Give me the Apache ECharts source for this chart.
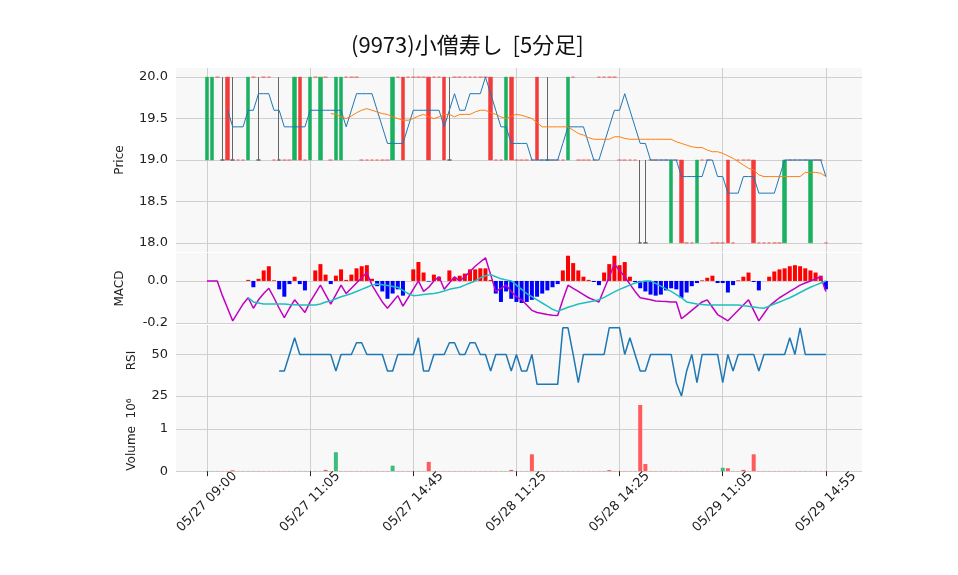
<!DOCTYPE html>
<html><head><meta charset="utf-8">
<script src="https://cdn.jsdelivr.net/npm/echarts@6/dist/echarts.min.js"></script>
<style>html,body{margin:0;padding:0;background:#fff}#c{width:958px;height:575px}</style>
</head><body><div id="c"></div>
<script>
const tickLabels = ['05/27 09:00','05/27 11:05','05/27 14:45','05/28 11:25','05/28 14:25','05/29 11:05','05/29 14:55'];
const opens = [19,19,20,19,20,19,19,19,19,20, 19,20,20,19,19,19,19,19,20,19, 19,20,19,20,19,19,19,20,20,20,
 19,19,19,19,19,19,19,20,20,20, 20,20,20,20,20,20,20,19,20,20, 20,20,20,20,20,20,19,19,19,20,
 19,19,19,19,20,19,19,19,19,19, 19,20,19,19,19,19,20,20,20,20, 19,19,19,19,18,18,19,19,19,19,
 18,19,19,18,18,18,19,19,18,18, 18,19,18,19,19,19,19,18,18,18, 18,18,18,19,19,19,19,18,19,19, 18];
const closes = [20,20,20,19,19,19,19,19,20,20, 19,20,20,19,19,19,19,20,19,19, 20,20,20,20,19,20,20,20,20,20,
 19,19,19,19,19,19,20,20,19,20, 20,20,20,19,20,20,19,19,20,20, 20,20,20,20,20,19,19,19,20,19,
 19,19,19,19,19,19,19,19,19,19, 20,20,19,19,19,19,20,20,20,20, 19,19,19,19,18,18,19,19,19,19,
 19,19,18,18,18,19,19,19,18,18, 18,18,18,19,19,19,18,18,18,18, 18,18,19,19,19,19,19,19,19,19, 18];
const wickBars = [3,5,10,14,47,66,84,85];
const ma5 = [null,null,null,null,19.6,19.4,19.4,19.4,19.6,19.6, 19.8,19.8,19.8,19.6,19.6,19.4,19.4,19.4,19.4,19.4,
 19.6,19.6,19.6,19.6,19.6,19.6,19.6,19.4,19.6,19.8, 19.8,19.8,19.8,19.6,19.4,19.2,19.2,19.2,19.2,19.4,
 19.6,19.6,19.6,19.6,19.6,19.6,19.4,19.6,19.8,19.6, 19.6,19.8,19.8,19.8,20.0,19.8,19.6,19.4,19.4,19.2,
 19.2,19.2,19.2,19.0,19.0,19.0,19.0,19.0,19.0,19.2, 19.4,19.4,19.4,19.4,19.2,19.0,19.0,19.2,19.4,19.6,
 19.6,19.8,19.6,19.4,19.2,19.2,19.0,19.0,19.0,19.0, 19.0,19.0,18.8,18.8,18.8,18.8,18.8,19.0,19.0,18.8,
 18.8,18.6,18.6,18.6,18.8,18.8,18.8,18.6,18.6,18.6, 18.6,18.8,19.0,19.0,19.0,19.0,19.0,19.0,19.0,19.0, 18.8];
const ma25 = [null,null,null,null,null,null,null,null,null,null, null,null,null,null,null,null,null,null,null,null,
 null,null,null,null,19.56,19.55,19.52,19.5,19.53,19.57, 19.6,19.62,19.6,19.58,19.56,19.55,19.52,19.5,19.48,19.48,
 19.5,19.53,19.55,19.52,19.5,19.52,19.55,19.55,19.52,19.55, 19.55,19.55,19.58,19.6,19.6,19.57,19.55,19.52,19.5,19.53,
 19.55,19.54,19.52,19.5,19.45,19.4,19.4,19.4,19.4,19.4, 19.4,19.36,19.32,19.3,19.27,19.25,19.25,19.25,19.25,19.28,
 19.28,19.26,19.25,19.25,19.25,19.25,19.25,19.25,19.25,19.25, 19.25,19.22,19.2,19.18,19.16,19.15,19.15,19.12,19.1,19.1,
 19.08,19.05,19.02,18.98,18.94,18.9,18.88,18.82,18.8,18.8, 18.8,18.8,18.8,18.8,18.8,18.8,18.85,18.85,18.85,18.84, 18.8];
const macd = [0,0,0,-0.07,-0.13,-0.19,-0.15,-0.11,-0.08,-0.13, -0.09,-0.06,-0.035,-0.08,-0.13,-0.175,-0.13,-0.09,-0.12,-0.15,
 -0.1,-0.06,-0.02,-0.065,-0.11,-0.065,-0.02,-0.06,-0.035,-0.01, 0.015,0.04,-0.02,-0.06,-0.1,-0.13,-0.1,-0.07,-0.12,-0.08,
 -0.04,0.0,-0.05,-0.03,0.0,0.02,-0.04,-0.01,0.02,0.0, 0.02,0.045,0.07,0.09,0.11,0.03,-0.05,-0.035,-0.02,-0.05,
 -0.075,-0.09,-0.115,-0.14,-0.15,-0.155,-0.16,-0.163,-0.165,-0.09, -0.02,-0.035,-0.05,-0.065,-0.08,-0.09,-0.1,-0.04,0.02,0.08,
 0.05,0.02,-0.015,-0.05,-0.08,-0.085,-0.09,-0.095,-0.097,-0.098, -0.1,-0.1,-0.18,-0.16,-0.14,-0.12,-0.1,-0.09,-0.125,-0.16,
 -0.175,-0.19,-0.165,-0.14,-0.115,-0.09,-0.14,-0.19,-0.155,-0.12, -0.1,-0.08,-0.065,-0.05,-0.035,-0.02,-0.01,0.0,0.01,0.02, -0.05];
const signal = [null,null,null,null,null,null,null,null,-0.08,-0.1, -0.105,-0.11,-0.11,-0.11,-0.11,-0.11,-0.112,-0.113,-0.115,-0.115,
 -0.115,-0.115,-0.11,-0.1,-0.095,-0.085,-0.075,-0.068,-0.06,-0.05, -0.04,-0.03,-0.02,-0.015,-0.018,-0.022,-0.026,-0.03,-0.045,-0.06,
 -0.07,-0.068,-0.065,-0.062,-0.06,-0.055,-0.048,-0.04,-0.035,-0.03, -0.02,-0.01,0.0,0.015,0.025,0.03,0.02,0.01,0.005,0.0,
 -0.02,-0.04,-0.06,-0.075,-0.09,-0.105,-0.12,-0.135,-0.145,-0.135, -0.125,-0.118,-0.11,-0.105,-0.1,-0.095,-0.09,-0.078,-0.065,-0.052,
 -0.04,-0.03,-0.02,-0.01,-0.005,0.0,0.0,-0.012,-0.025,-0.038, -0.05,-0.065,-0.08,-0.1,-0.105,-0.11,-0.112,-0.114,-0.115,-0.115,
 -0.115,-0.115,-0.115,-0.115,-0.118,-0.12,-0.124,-0.128,-0.13,-0.12, -0.11,-0.1,-0.09,-0.08,-0.068,-0.055,-0.042,-0.03,-0.02,-0.01, 0.0];
const hist = [null,null,null,null,null,null,null,null,0.005,-0.03, 0.01,0.05,0.07,0.003,-0.04,-0.075,-0.015,0.02,-0.015,-0.045,
 0.0,0.05,0.08,0.03,-0.015,0.025,0.055,0.005,0.03,0.06, 0.07,0.075,0.01,-0.025,-0.05,-0.085,-0.06,-0.04,-0.07,0.0,
 0.055,0.09,0.04,-0.003,0.03,0.02,0.0,0.05,0.015,0.025, 0.035,0.055,0.055,0.06,0.06,0.005,-0.06,-0.1,-0.05,-0.085,
 -0.1,-0.105,-0.1,-0.09,-0.075,-0.06,-0.045,-0.03,-0.015,0.05, 0.12,0.085,0.05,0.02,0.005,-0.005,-0.02,0.04,0.08,0.12,
 0.075,0.09,0.02,-0.005,-0.035,-0.05,-0.065,-0.07,-0.065,-0.045, -0.035,-0.04,-0.08,-0.055,-0.025,-0.01,0.003,0.015,0.025,-0.01,
 -0.01,-0.055,-0.02,0.003,0.02,0.04,-0.005,-0.045,0.0,0.02, 0.045,0.055,0.06,0.07,0.075,0.07,0.06,0.05,0.04,0.025, -0.04];
const rsi = [null,null,null,null,null,null,null,null,null,null, null,null,null,null,40,40,50,60,50,50,
 50,50,50,50,50,40,50,50,50,57, 57,50,50,50,50,40,40,50,50,50,
 50,60,40,40,50,50,50,57,57,50, 50,57,57,50,50,40,50,50,50,40,
 50,40,40,50,32,32,32,32,32,66, 66,50,33,50,50,50,50,50,66,66,
 66,50,60,50,40,40,50,50,50,50, 50,33,25,40,50,33,50,50,50,50,
 33,50,40,50,50,50,50,40,50,50, 50,50,50,60,50,66,50,50,50,50, 50];
const volume = [0.005,0.005,0.005,0.005,0.005,0.02,0.005,0.005,0.005,0.005, 0.005,0.005,0.005,0.005,0.005,0.005,0.005,0.005,0.005,0.005,
 0.005,0.005,0.005,0.03,0.005,0.45,0.005,0.005,0.005,0.005, 0.005,0.005,0.005,0.005,0.005,0.005,0.13,0.005,0.005,0.005,
 0.005,0.005,0.005,0.22,0.005,0.005,0.005,0.005,0.005,0.005, 0.005,0.005,0.005,0.005,0.005,0.005,0.005,0.005,0.005,0.03,
 0.005,0.005,0.005,0.4,0.005,0.005,0.005,0.005,0.005,0.005, 0.005,0.005,0.005,0.005,0.005,0.005,0.005,0.005,0.025,0.005,
 0.005,0.005,0.005,0.005,1.57,0.17,0.005,0.005,0.005,0.005, 0.005,0.005,0.005,0.005,0.005,0.005,0.005,0.005,0.005,0.005,
 0.08,0.07,0.005,0.005,0.03,0.005,0.4,0.005,0.005,0.005, 0.005,0.005,0.005,0.005,0.005,0.005,0.005,0.005,0.005,0.005, 0.005];
const greenVolBars = [25,36,100];

const PADL = 6, PADR = 7, N = closes.length;
const cats = [];
for (let i = 0; i < PADL + N + PADR; i++) {
  const k = i - PADL;
  cats.push(k >= 0 && k < N && k % 20 === 0 ? tickLabels[k / 20] : 'p' + i);
}
const pad = a => Array(PADL).fill('-').concat(a.map(v => v === null ? '-' : v), Array(PADR).fill('-'));
const isTick = idx => { const k = idx - PADL; return k >= 0 && k < N && k % 20 === 0; };

const candleData = pad(closes.map((c, i) => {
  const o = opens[i];
  const wick = wickBars.includes(i);
  const lo = Math.min(o, c), hi = wick ? Math.max(o, c) + 1 : Math.max(o, c);
  const item = { value: [o, c, lo, hi] };
  if (wick) item.itemStyle = { borderColorDoji: '#666', borderWidth: 1 };
  return item;
}));
const histData = pad(hist.map(v => v === null ? null : { value: v, itemStyle: { color: v >= 0 ? '#ff0000' : '#0000ff' } }));
const volData = pad(volume.map((v, i) => ({ value: v, itemStyle: { color: (closes[i] > opens[i] || greenVolBars.includes(i)) ? '#3dbd7d' : '#ff5b5b' } })));

const L = 176, R = 96;
const grids = [
  { top: 68, height: 184 }, { top: 253, height: 71 }, { top: 325, height: 71 }, { top: 397, height: 75 }
].map(g => Object.assign({ left: L, right: R, show: true, backgroundColor: '#f8f8f8', borderWidth: 0 }, g));

const lbl = { color: '#222', fontSize: 13, fontFamily: 'DejaVu Sans' };
const xAxes = grids.map((g, gi) => ({
  type: 'category', gridIndex: gi, data: cats, boundaryGap: false,
  axisLine: { show: false },
  axisTick: { show: gi === 3, interval: idx => isTick(idx), length: 5, lineStyle: { color: '#222' } },
  axisLabel: gi === 3 ? Object.assign({ interval: idx => isTick(idx), rotate: 45, margin: 30, align: 'center', verticalAlign: 'middle' }, lbl) : { show: false },
  splitLine: { show: true, interval: idx => isTick(idx), lineStyle: { color: '#cfcfcf', width: 1 } }
}));
function yAx(gi, min, max, vals, name, gap, dec) {
  return {
    type: 'value', gridIndex: gi, min, max, name, nameLocation: 'middle', nameRotate: 90, nameGap: gap,
    nameTextStyle: { color: '#222', fontSize: 12, fontFamily: 'DejaVu Sans' },
    axisLine: { show: false },
    axisTick: { show: false, customValues: vals },
    axisLabel: Object.assign({ customValues: vals, formatter: v => v.toFixed(dec) }, lbl),
    splitLine: { show: true, customValues: vals, lineStyle: { color: '#cfcfcf' } }
  };
}
const yAxes = [
  yAx(0, 17.89, 20.11, [18, 18.5, 19, 19.5, 20], 'Price', 50, 1),
  yAx(1, -0.205, 0.133, [-0.2, 0], 'MACD', 50, 1),
  yAx(2, 25, 67.7, [25, 50], 'RSI', 38, 0),
  yAx(3, -0.02, 1.76, [0, 1], 'Volume  10\u2076', 38, 0)
];

const chart = echarts.init(document.getElementById('c'));
chart.setOption({
  animation: false,
  title: { text: '(9973)小僧寿し  [5分足]', left: 346, top: 29, textStyle: { fontSize: 22, fontWeight: 'normal', color: '#111', fontFamily: 'Noto Sans CJK JP' } },
  grid: grids, xAxis: xAxes, yAxis: yAxes,
  series: [
    { type: 'candlestick', xAxisIndex: 0, yAxisIndex: 0, data: candleData, barWidth: 4,
      itemStyle: { color: '#19b15f', color0: '#f23c3c', borderColor: '#19b15f', borderColor0: '#f23c3c', borderColorDoji: '#f23c3c', borderWidth: 0.5 } },
    { type: 'line', xAxisIndex: 0, yAxisIndex: 0, data: pad(ma5), symbol: 'none', lineStyle: { color: '#1f77b4', width: 1 } },
    { type: 'line', xAxisIndex: 0, yAxisIndex: 0, data: pad(ma25), symbol: 'none', lineStyle: { color: '#ff7f0e', width: 1 } },
    { type: 'bar', xAxisIndex: 1, yAxisIndex: 1, data: histData, barWidth: 4 },
    { type: 'line', xAxisIndex: 1, yAxisIndex: 1, data: pad(macd), symbol: 'none', lineStyle: { color: '#c000c0', width: 1.5 } },
    { type: 'line', xAxisIndex: 1, yAxisIndex: 1, data: pad(signal), symbol: 'none', lineStyle: { color: '#1fbfbf', width: 1.5 } },
    { type: 'line', xAxisIndex: 2, yAxisIndex: 2, data: pad(rsi), symbol: 'none', lineStyle: { color: '#1f77b4', width: 1.5 } },
    { type: 'bar', xAxisIndex: 3, yAxisIndex: 3, data: volData, barWidth: 4 }
  ]
});
</script></body></html>
